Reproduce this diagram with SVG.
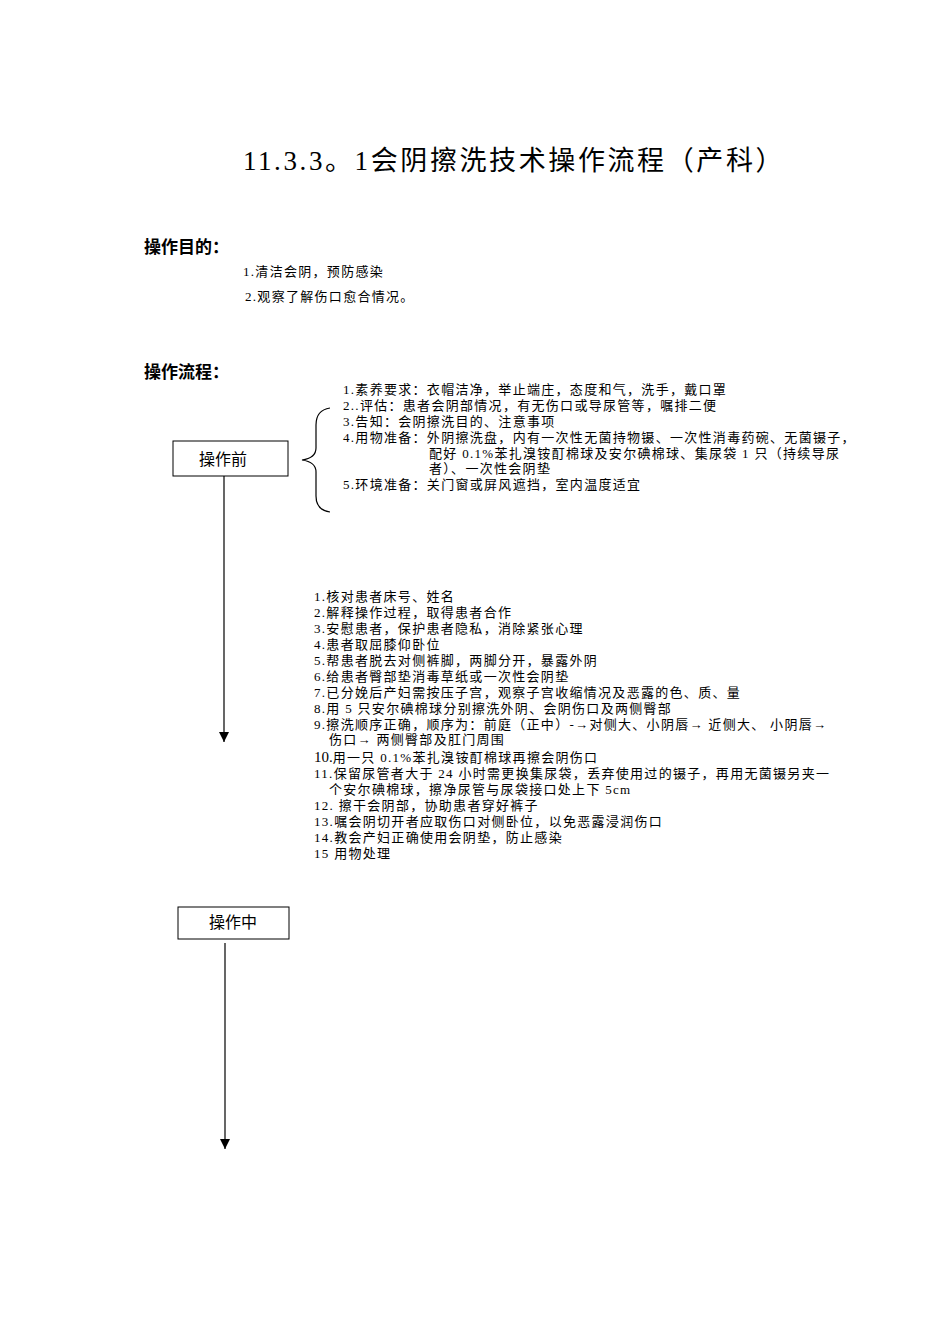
<svg xmlns="http://www.w3.org/2000/svg" width="950" height="1344" viewBox="0 0 950 1344">
<style>
text{font-family:"Liberation Serif","Noto Sans CJK SC",serif;fill:#000}
.t{font-size:13px;letter-spacing:1.3px}
.h{font-size:17px;font-weight:bold}
.b{font-size:16px}
.ln{stroke:#000;stroke-width:1.2;fill:none}
</style>
<defs>
<marker id="m" markerWidth="10" markerHeight="12" refX="10" refY="5" orient="auto" markerUnits="userSpaceOnUse"><path d="M0,0 L10,5 L0,10 z" fill="#000"/></marker></defs>
<text x="514" y="170" font-size="27" letter-spacing="2.6" text-anchor="middle">11.3.3。1会阴擦洗技术操作流程（产科）</text>
<text x="144" y="253" class="h">操作目的：</text>
<text x="243" y="276" class="t" letter-spacing="0.4">1.清洁会阴，预防感染</text>
<text x="245" y="301" class="t" letter-spacing="0.4">2.观察了解伤口愈合情况。</text>
<text x="144" y="378" class="h">操作流程：</text>
<g id="n1"><rect x="173" y="441" width="115" height="35" fill="none" stroke="#000"/><text x="223" y="465" class="b" text-anchor="middle">操作前</text></g>
<g id="n2"><rect x="178" y="907" width="111" height="32" fill="none" stroke="#000"/><text x="233" y="928" class="b" text-anchor="middle">操作中</text></g>
<g id="brace"><path class="ln" d="M330,408 Q316,410 316,425 L316,448 Q316,458 302,460 Q316,462 316,472 L316,496 Q316,510 330,512"/></g>
<g id="list1" class="t">
<text x="343" y="394">1.素养要求：衣帽洁净，举止端庄，态度和气，洗手，戴口罩</text>
<text x="343" y="410">2..评估：患者会阴部情况，有无伤口或导尿管等，嘱排二便</text>
<text x="343" y="426">3.告知：会阴擦洗目的、注意事项</text>
<text x="343" y="442">4.用物准备：外阴擦洗盘，内有一次性无菌持物镊、一次性消毒药碗、无菌镊子，</text>
<text x="429" y="458">配好 0.1%苯扎溴铵酊棉球及安尔碘棉球、集尿袋 1 只（持续导尿</text>
<text x="429" y="473">者）、一次性会阴垫</text>
<text x="343" y="489">5.环境准备：关门窗或屏风遮挡，室内温度适宜</text>
</g>
<g id="list2" class="t">
<text x="314" y="601">1.核对患者床号、姓名</text>
<text x="314" y="617">2.解释操作过程，取得患者合作</text>
<text x="314" y="633">3.安慰患者，保护患者隐私，消除紧张心理</text>
<text x="314" y="649">4.患者取屈膝仰卧位</text>
<text x="314" y="665">5.帮患者脱去对侧裤脚，两脚分开，暴露外阴</text>
<text x="314" y="681">6.给患者臀部垫消毒草纸或一次性会阴垫</text>
<text x="314" y="697">7.已分娩后产妇需按压子宫，观察子宫收缩情况及恶露的色、质、量</text>
<text x="314" y="713">8.用 5 只安尔碘棉球分别擦洗外阴、会阴伤口及两侧臀部</text>
<text x="314" y="729">9.擦洗顺序正确，顺序为：前庭（正中）-→对侧大、小阴唇→ 近侧大、 小阴唇→</text>
<text x="329" y="744">伤口→ 两侧臀部及肛门周围</text>
<text x="314" y="762"><tspan font-size="15" letter-spacing="0">10.</tspan>用一只 0.1%苯扎溴铵酊棉球再擦会阴伤口</text>
<text x="314" y="778">11.保留尿管者大于 24 小时需更换集尿袋，丢弃使用过的镊子，再用无菌镊另夹一</text>
<text x="329" y="794">个安尔碘棉球，擦净尿管与尿袋接口处上下 5cm</text>
<text x="314" y="810">12. 擦干会阴部，协助患者穿好裤子</text>
<text x="314" y="826">13.嘱会阴切开者应取伤口对侧卧位，以免恶露浸润伤口</text>
<text x="314" y="842">14.教会产妇正确使用会阴垫，防止感染</text>
<text x="314" y="858">15 用物处理</text>
</g>
<g id="connectors">
<line class="ln" x1="224" y1="476" x2="224" y2="742" marker-end="url(#m)"/>
<line class="ln" x1="225" y1="943" x2="225" y2="1149" marker-end="url(#m)"/>
</g>
</svg>
